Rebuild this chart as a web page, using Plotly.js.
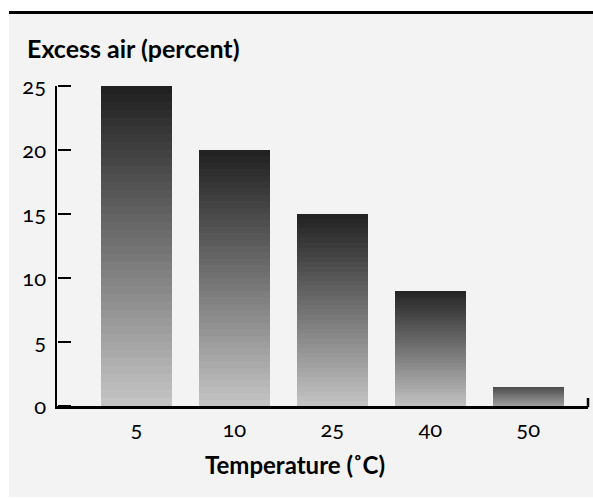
<!DOCTYPE html>
<html>
<head>
<meta charset="utf-8">
<script src="https://cdn.plot.ly/plotly-3.0.1.min.js"></script>
<style>
html,body{margin:0;padding:0;background:#fff;}
.main-svg text{font-feature-settings:"onum" 1;}
</style>
</head>
<body>
<div id="chart" style="width:593px;height:498px;"></div>
<script>
// Data
const categories = ["5", "10", "25", "40", "50"];
const excessAir = [25, 20, 15, 9, 1.5];
const yTickVals = [0, 5, 10, 15, 20, 25];
const yTickText = ["0", "5", "10", "15", "20", "25"];
const yTitle = "Excess air (percent)";
const xTitle = "Temperature (˚C)";

// Layout geometry (pixels)
const W = 593, H = 498, L = 57, R = 5, T = 86, B = 92;
const PW = W - L - R, PH = H - T - B;
const px = x => (x - L) / PW;
const py = y => (H - B - y) / PH;

// Gradient rendering: each bar drawn as stacked bands
const N = 40;
const traces = [];
for (let k = 0; k < N; k++) {
  const t = (k + 0.5) / N;
  const colors = excessAir.map(v => {
    const top = 28 + 70 / v;
    const bot = 200 - 60 / v;
    const c = Math.round(bot + (top - bot) * t);
    return `rgb(${c},${c},${c})`;
  });
  traces.push({
    type: "bar", x: categories, y: excessAir.map(v => v / N),
    marker: {color: colors, line: {width: 0}},
    hoverinfo: "skip", showlegend: false
  });
}
// invisible trace to activate the tick-mark axis (ticks pointing inward)
traces.push({type: "scatter", x: categories, y: excessAir, yaxis: "y2",
  mode: "markers", marker: {opacity: 0}, hoverinfo: "skip", showlegend: false});

const font = "Lato, 'Open Sans', sans-serif";
const layout = {
  width: W, height: H,
  margin: {l: L, r: R, t: T, b: B, pad: 0},
  paper_bgcolor: "#f3f3f3", plot_bgcolor: "#f3f3f3",
  barmode: "stack", bargap: 0.275,
  font: {family: font, color: "#000", size: 22},
  xaxis: {
    type: "category", range: [-0.81, 4.61],
    showline: true, linecolor: "#000", linewidth: 2.5,
    ticks: "", showgrid: false, zeroline: false,
    ticklabelstandoff: 2,
    tickfont: {size: 22, family: font, color: "#000"},
    fixedrange: true
  },
  yaxis: {
    range: [0, 25],
    showline: true, linecolor: "#000", linewidth: 2.5,
    ticks: "",
    tickvals: yTickVals, ticktext: yTickText,
    showgrid: false, zeroline: false,
    ticklabelstandoff: 4,
    tickfont: {size: 22, family: font, color: "#000"},
    fixedrange: true
  },
  yaxis2: {
    overlaying: "y", side: "right", anchor: "free", position: 0,
    range: [0, 25], tickvals: yTickVals,
    ticks: "outside", ticklen: 13, tickwidth: 2.5, tickcolor: "#000",
    showticklabels: false, showline: false, showgrid: false, zeroline: false,
    fixedrange: true
  },
  shapes: [
    {type: "rect", xref: "paper", yref: "paper", layer: "above",
     x0: px(-5), x1: px(W + 5), y0: py(12.5), y1: py(-5),
     fillcolor: "#ffffff", line: {width: 0}},
    {type: "rect", xref: "paper", yref: "paper", layer: "above",
     x0: px(-5), x1: px(9), y0: py(H + 5), y1: py(-5),
     fillcolor: "#ffffff", line: {width: 0}},
    {type: "rect", xref: "paper", yref: "paper", layer: "above",
     x0: px(-5), x1: px(W + 5), y0: py(H + 5), y1: py(497),
     fillcolor: "#ffffff", line: {width: 0}},
    {type: "line", xref: "paper", yref: "paper", layer: "above",
     x0: px(9), x1: px(W + 5), y0: py(12.5), y1: py(12.5),
     line: {color: "#000", width: 3}},
    {type: "line", xref: "paper", yref: "paper", layer: "above",
     x0: 1, x1: 1, y0: -0.004, y1: 8 / PH,
     line: {color: "#000", width: 2.5}}
  ],
  annotations: [
    {text: "<b>" + yTitle + "</b>", xref: "paper", yref: "paper",
     x: px(25), y: py(48), xanchor: "left", yanchor: "middle",
     showarrow: false, font: {size: 25, family: font, color: "#000"}},
    {text: "<b>" + xTitle + "</b>", xref: "paper", yref: "paper",
     x: px(295), y: py(464), xanchor: "center", yanchor: "middle",
     showarrow: false, font: {size: 24, family: font, color: "#000"}}
  ]
};

Plotly.newPlot("chart", traces, layout, {displayModeBar: false, staticPlot: true});
</script>
</body>
</html>
